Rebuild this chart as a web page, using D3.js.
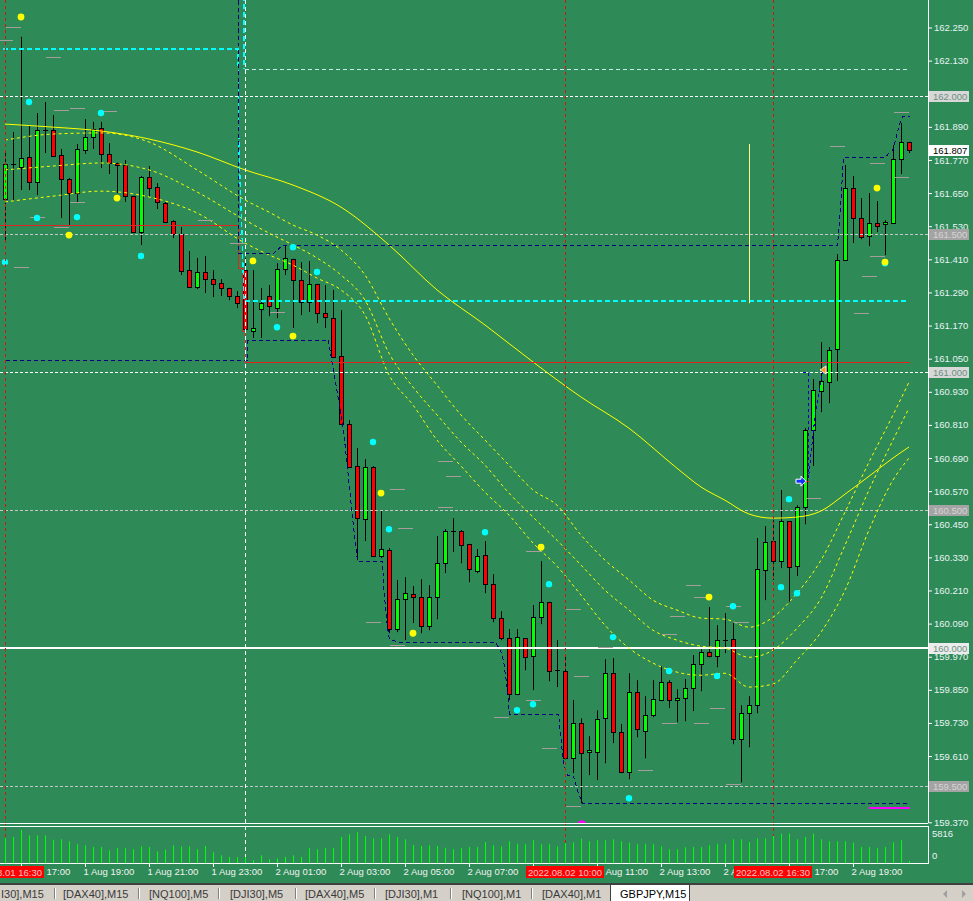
<!DOCTYPE html>
<html><head><meta charset="utf-8">
<script src="https://cdn.jsdelivr.net/npm/d3@7"></script>
<style>body{margin:0;background:#2e8b57;overflow:hidden}svg{display:block}</style>
</head><body><svg id="c" width="973" height="901"></svg>
<script>
// ================= DATA =================
const firstBar = "2022-08-01 16:30";   // M15 bars
const open = [161.628,161.755,161.744,161.781,161.690,161.879,161.879,161.788,161.701,161.650,
161.806,161.853,161.886,161.792,161.759,161.752,161.639,161.509,161.708,161.672,
161.614,161.549,161.502,161.371,161.310,161.364,161.338,161.324,161.306,161.277,
161.371,161.150,161.230,161.277,161.233,161.375,161.411,161.335,161.255,161.320,
161.215,161.197,161.059,160.813,160.661,160.469,160.657,160.335,160.356,160.070,
160.179,160.197,160.186,160.081,160.186,160.309,160.425,160.425,160.378,160.280,
160.338,160.233,160.110,160.037,159.834,160.037,159.972,160.113,160.168,159.921,
159.918,159.602,159.729,159.624,159.624,159.747,159.910,159.697,159.552,159.842,
159.700,159.758,159.813,159.878,159.813,159.820,159.856,159.943,159.987,159.972,
160.031,160.034,159.671,159.765,159.794,160.284,160.389,160.316,160.461,160.298,
160.512,160.791,160.933,160.965,161.085,161.407,161.668,161.560,161.494,161.541,
161.538,161.541,161.773,161.835];
const high = [161.799,161.871,162.216,161.897,161.940,161.980,161.933,161.810,161.705,161.828,
161.918,161.908,161.908,161.831,161.760,161.770,161.640,161.712,161.748,161.686,
161.618,161.552,161.527,161.440,161.415,161.422,161.371,161.338,161.307,161.295,
161.415,161.371,161.306,161.317,161.396,161.462,161.412,161.400,161.404,161.321,
161.317,161.299,161.226,160.827,160.726,160.686,160.661,160.501,160.364,160.248,
160.258,160.226,160.251,160.229,160.407,160.432,160.472,160.429,160.379,160.360,
160.389,160.269,160.135,160.070,160.070,160.038,160.157,160.316,160.169,160.030,
159.976,159.813,159.747,159.682,159.776,159.961,159.965,159.726,159.910,159.885,
159.827,159.885,159.936,159.885,159.852,159.889,159.976,159.997,160.150,160.084,
160.128,160.092,159.794,159.827,160.400,160.443,160.465,160.574,160.462,160.519,
160.798,160.976,161.110,161.092,161.429,161.752,161.712,161.632,161.650,161.621,
161.552,161.824,161.904,161.836];
const low = [161.480,161.621,161.661,161.661,161.643,161.795,161.781,161.560,161.534,161.614,
161.792,161.810,161.741,161.719,161.650,161.618,161.505,161.462,161.636,161.592,
161.541,161.487,161.353,161.306,161.302,161.288,161.273,161.277,161.262,161.233,
161.143,161.125,161.125,161.204,161.197,161.353,161.161,161.208,161.219,161.179,
161.161,161.052,160.809,160.654,160.320,160.389,160.331,160.327,160.055,160.059,
160.030,160.092,160.055,160.066,160.106,160.273,160.349,160.309,160.240,160.273,
160.200,160.095,160.030,159.813,159.831,159.921,159.849,160.088,159.881,159.860,
159.598,159.548,159.439,159.541,159.523,159.584,159.657,159.548,159.526,159.678,
159.602,159.751,159.809,159.784,159.733,159.736,159.773,159.845,159.968,159.932,
159.983,159.653,159.515,159.642,159.765,160.175,160.248,160.291,160.168,160.262,
160.450,160.661,160.856,160.889,160.969,161.406,161.469,161.483,161.458,161.509,
161.425,161.540,161.719,161.795];
const close = [161.755,161.754,161.777,161.690,161.879,161.875,161.784,161.701,161.650,161.810,
161.853,161.882,161.792,161.759,161.752,161.639,161.509,161.708,161.668,161.618,
161.545,161.502,161.367,161.310,161.364,161.338,161.320,161.306,161.277,161.251,
161.157,161.161,161.251,161.241,161.375,161.415,161.335,161.255,161.320,161.215,
161.201,161.056,160.813,160.657,160.472,160.657,160.335,160.360,160.070,160.179,
160.200,160.186,160.081,160.186,160.309,160.425,160.421,160.374,160.287,160.335,
160.233,160.110,160.037,159.834,160.041,159.968,160.113,160.168,159.918,159.918,
159.602,159.729,159.620,159.631,159.744,159.910,159.697,159.552,159.842,159.707,
159.758,159.816,159.878,159.813,159.820,159.856,159.943,159.987,159.972,160.030,
160.029,159.671,159.765,159.794,160.287,160.385,160.316,160.461,160.295,160.512,
160.791,160.936,160.969,161.081,161.407,161.668,161.560,161.491,161.541,161.531,
161.545,161.773,161.835,161.807];
const volume = [4400,4581,5816,4880,4880,4880,4105,4176,3823,3295,
3119,2819,2819,2238,2643,2590,2414,2942,2819,2061,
2343,3119,2942,2942,2414,2995,1885,1357,1057,1004,
1057,476,1357,652,828,1057,1357,1057,2590,2414,
2643,2643,4581,5057,5409,4757,4352,4352,5057,4581,
4176,3172,2995,3119,2995,2696,2414,2590,2819,2819,
3700,3119,2942,3823,3401,3295,4000,3295,3295,2942,
3524,3647,4282,3823,4000,4000,4176,3823,3577,3295,
3401,3295,2942,2414,2414,2766,2819,2819,3119,3401,
3401,4176,4176,3700,4352,4352,4757,5163,5163,4176,
4581,5163,4176,3823,3823,3823,3577,2819,2819,2590,
2819,3647,4000,352];
const volMax = 5816;

// slow moving average (solid yellow), sampled at bar indices
const maIdx = [0,6,12,18,24,30,36,42,48,54,60,66,72,78,84,87,90,93,96,99,102,105,108,111,113];
const maSlow = [161.900,161.889,161.875,161.846,161.799,161.734,161.679,161.599,161.462,161.299,161.172,161.038,160.911,160.798,160.653,160.585,160.537,160.487,160.472,160.476,160.498,160.559,160.624,160.690,160.730];
// envelope bands (dashed yellow), sampled at bar indices
const bandIdx = [0,6,12,18,24,30,33,36,39,42,45,48,51,54,57,60,63,66,69,72,75,78,81,84,87,90,93,96,99,102,105,108,111,113];
const bandUp  = [161.842,161.864,161.868,161.835,161.734,161.625,161.581,161.534,161.498,161.444,161.353,161.197,161.063,160.954,160.846,160.755,160.664,160.574,160.519,160.411,160.320,160.248,160.175,160.139,160.110,160.106,160.077,160.113,160.200,160.320,160.494,160.675,160.846,160.965];
const bandMid = [161.734,161.748,161.759,161.734,161.654,161.552,161.505,161.462,161.415,161.353,161.262,161.070,160.947,160.846,160.748,160.664,160.563,160.476,160.392,160.302,160.211,160.139,160.066,160.030,160.008,160.001,159.968,159.994,160.073,160.182,160.374,160.574,160.755,160.871];
const bandLow = [161.618,161.639,161.657,161.636,161.578,161.469,161.426,161.389,161.342,161.299,161.208,160.991,160.882,160.755,160.661,160.566,160.483,160.382,160.298,160.193,160.084,160.001,159.947,159.914,159.903,159.910,159.860,159.871,159.958,160.059,160.211,160.429,160.610,160.690];

// channel step lines (bar index, price)
const chanHiK = [29.1,29.1,33.5,34.6,104,104.4,104.8,110,110.4,110.9,111.3,111.6,112.1,113];
const chanHiP = [162.45,161.433,161.433,161.462,161.462,161.600,161.781,161.781,161.795,161.806,161.842,161.889,161.929,161.929];
const chanLoK = [0,30.3,30.3,40.4,41,41.5,42.25,42.75,43.4,43.75,44,47.1,47.25,47.5,47.75,48,49.4,61.25,61.9,62.25,62.75,63,69.1,69.4,69.75,70.25,71,71.6,72.1,113];
const chanLoP = [161.045,161.045,161.117,161.117,161.009,160.925,160.791,160.657,160.476,160.382,160.316,160.316,160.237,160.150,160.077,160.034,160.023,160.023,159.994,159.958,159.849,159.762,159.762,159.693,159.584,159.541,159.537,159.476,159.439,159.439];
const trailK = [99.6,100.4,100.4,101.2,102.1];
const trailP = [161.000,161.000,160.620,160.860,161.000];
const cyanLoK = [-0.3,29.1,29.3,29.6,29.9,113];
const cyanLoP = [162.172,162.172,161.800,161.500,161.259,161.259];
const cyanHiK = [29.9,29.9,113];
const cyanHiP = [162.45,162.100,162.100];
const redK = [-1,29.1,29.1,29.6,29.6,30,30,113];
const redP = [161.534,161.534,161.380,161.380,161.150,161.150,161.038,161.038];
const magentaK = [107.9,113];
const magentaP = [159.425,159.425];
const rangeK = 93, rangeP = [161.828,161.251];

// horizontal price levels and current price
const levelPrices = [162.0,161.5,161.0,160.5,160.0,159.5];
const lastPrice = 161.807;
// vertical time lines
const vLineTimes = ["2022-08-01 16:30","2022-08-02 10:00","2022-08-02 16:30"];
const dayStart = "2022-08-02 00:00";

// fractal dots / markers (bar index, price)
const cyanK = [3,12,4,9,0,17,36,39,34,46,48,60,68,66,64,76,83,91,89,78,98,97,99,110];
const cyanP = [161.980,161.940,161.560,161.563,161.400,161.422,161.454,161.364,161.164,160.748,160.432,160.421,160.233,159.798,159.776,160.041,159.918,160.153,159.900,159.457,160.541,160.222,160.200,161.396];
const yellowK = [2,14,8,31,36,47,51,67,88,109,110];
const yellowP = [162.288,161.632,161.498,161.404,161.132,160.563,160.055,160.367,160.186,161.668,161.400];
const markK = [0,1,6,7,9,13,9,4,7,25,29,2,34,55,56,49,55,50,46,49,66,66,71,86,87,91,92,84,83,75,89,72,83,87,68,80,91,71,104,112,109,112,109,108,107,101,62];
const markP = [162.205,162.252,162.143,161.951,161.958,161.947,161.618,161.563,161.527,161.552,161.469,161.382,161.219,160.679,160.624,160.577,160.512,160.436,160.095,160.012,160.353,159.813,160.142,160.229,160.186,160.153,160.095,160.117,160.052,160.005,159.784,159.900,159.729,159.729,159.639,159.559,159.508,159.428,161.821,161.944,161.759,161.708,161.422,161.349,161.215,160.545,159.751];
const buyArrow = [99.5,160.606];
const sellTri = [102.25,161.009];
const lowBlob = [72.1,159.363];

// axes
const priceTicks = [162.25,162.13,161.89,161.77,161.65,161.53,161.41,161.29,161.17,161.05,160.93,160.81,160.69,160.57,160.45,160.33,160.21,160.09,159.97,159.85,159.73,159.61,159.37];
const timeTicks = ["2022-08-01 17:00","2022-08-01 19:00","2022-08-01 21:00","2022-08-01 23:00","2022-08-02 01:00","2022-08-02 03:00","2022-08-02 05:00","2022-08-02 07:00","2022-08-02 09:00","2022-08-02 11:00","2022-08-02 13:00","2022-08-02 15:00","2022-08-02 17:00","2022-08-02 19:00"];
const timeTickLabels = ["17:00","1 Aug 19:00","1 Aug 21:00","1 Aug 23:00","2 Aug 01:00","2 Aug 03:00","2 Aug 05:00","2 Aug 07:00","","Aug 11:00","2 Aug 13:00","2 A","17:00","2 Aug 19:00"];
const tabs = ["I30],M15","[DAX40],M15","[NQ100],M5","[DJI30],M5","[DAX40],M5","[DJI30],M1","[NQ100],M1","[DAX40],M1","GBPJPY,M15"];

// ================= DRAW =================
const W=973,H=901, BG="#2e8b57", FONT="Liberation Sans, Arial, sans-serif";
const svg=d3.select("#c");
svg.append("rect").attr("width",W).attr("height",H).attr("fill",BG);

const parse=d3.timeParse("%Y-%m-%d %H:%M");
const t0=parse(firstBar), barMs=15*60000;
const times=open.map((_,i)=>new Date(+t0+i*barMs));
const x=d3.scaleTime().domain([times[0],times[times.length-1]]).range([5,909]);
const xk=k=>x(new Date(+t0+k*barMs));
const y=d3.scaleLinear().domain([159.37,162.25]).range([822.3,27.5]);
const yv=d3.scaleLinear().domain([0,volMax]).range([863,830]);
const zip=(a,b)=>a.map((v,i)=>[v,b[i]]);
const cr=v=>Math.round(v)+0.5;
const lineK=d3.line().x(d=>cr(xk(d[0]))).y(d=>cr(y(d[1])));
const lineRaw=d3.line().x(d=>Math.round(xk(d[0]))).y(d=>Math.round(y(d[1])));
const smooth=d3.line().x(d=>xk(d[0])).y(d=>y(d[1])).curve(d3.curveMonotoneX);

const defs=svg.append("defs");
defs.append("clipPath").attr("id","cm").append("rect").attr("x",0).attr("y",0).attr("width",928).attr("height",823);
defs.append("clipPath").attr("id","cv").append("rect").attr("x",0).attr("y",827).attr("width",928).attr("height",36);

const g=svg.append("g").attr("clip-path","url(#cm)");

// vertical lines (time)
const vx=vLineTimes.map(s=>cr(x(parse(s))));
svg.selectAll(".vl").data(vx).join("line").attr("x1",d=>d).attr("x2",d=>d).attr("y1",0).attr("y2",863)
  .attr("stroke","#e01010").attr("stroke-dasharray","3,3");
const dx=cr(x(parse(dayStart)));
svg.append("line").attr("x1",dx).attr("x2",dx).attr("y1",0).attr("y2",863).attr("stroke","#ffffff").attr("stroke-dasharray","4,3");

// candles
const cg=g.append("g");
open.forEach((o,i)=>{
  const cx=Math.round(xk(i)), c=close[i];
  cg.append("line").attr("x1",cx+0.5).attr("x2",cx+0.5).attr("y1",y(high[i])).attr("y2",y(low[i])).attr("stroke","#000");
  const y1=y(Math.max(o,c)), y2=y(Math.min(o,c));
  if (y2-y1<1.5){
    cg.append("line").attr("x1",cx-2).attr("x2",cx+3).attr("y1",cr(y1)).attr("y2",cr(y1)).attr("stroke","#000");
  } else {
    cg.append("rect").attr("x",cx-1.5).attr("y",Math.round(y1)+0.5).attr("width",4).attr("height",Math.round(y2-y1))
      .attr("fill",c>o?"#00ff00":"#ff0000").attr("stroke","#000");
  }
});

// horizontal levels
const levStyle=[["#ffffff","3,2",1],["#c8c8c8","3,2",1],["#ffffff","3,2",1],["#c8c8c8","3,2",1],["#ffffff",null,2],["#c8c8c8","3,2",1]];
levelPrices.forEach((p,i)=>{
  const s=levStyle[i];
  const yy=s[2]===2?Math.round(y(p)):cr(y(p));
  g.append("line").attr("x1",0).attr("x2",928).attr("y1",yy).attr("y2",yy)
   .attr("stroke",s[0]).attr("stroke-width",s[2]).attr("stroke-dasharray",s[1]);
});

// yellow MA + bands
g.append("path").attr("d",smooth(zip(maIdx,maSlow))).attr("fill","none").attr("stroke","#ffff00").attr("stroke-width",1);
[bandUp,bandMid,bandLow].forEach(b=>{
  g.append("path").attr("d",smooth(zip(bandIdx,b))).attr("fill","none").attr("stroke","#ffff00").attr("stroke-width",1).attr("stroke-dasharray","3,3");
});

// step lines
function step(k,p,color,dash,w,gen){
  g.append("path").attr("d",(gen||lineK)(zip(k,p))).attr("fill","none").attr("stroke",color)
   .attr("stroke-width",w||1).attr("stroke-dasharray",dash).attr("shape-rendering","crispEdges");
}
step(redK,redP,"#e02424",null);
step(cyanLoK,cyanLoP,"#00ffff","5,3",1.3,lineRaw);
step(cyanHiK.slice(0,2),cyanHiP.slice(0,2),"#00ffff","5,3",1.3,lineRaw);
step(cyanHiK.slice(1),cyanHiP.slice(1),"#c8ecec","4,3");
step(chanHiK,chanHiP,"#000080","4,3");
step(chanLoK,chanLoP,"#000080","4,3");
step(trailK,trailP,"#0000cc","3,3");
step(magentaK,magentaP,"#ff00ff",null,2);
g.append("line").attr("x1",cr(xk(rangeK))).attr("x2",cr(xk(rangeK))).attr("y1",y(rangeP[0])).attr("y2",y(rangeP[1])).attr("stroke","#ffff90");

// grey markers
g.selectAll(".mk").data(zip(markK,markP)).join("line")
  .attr("x1",d=>Math.round(xk(d[0]))-7).attr("x2",d=>Math.round(xk(d[0]))+8)
  .attr("y1",d=>cr(y(d[1]))).attr("y2",d=>cr(y(d[1]))).attr("stroke","#a89c9c");

// dots
g.selectAll(".cd").data(zip(cyanK,cyanP)).join("circle").attr("cx",d=>xk(d[0])).attr("cy",d=>y(d[1])).attr("r",3.2).attr("fill","#00ffff");
g.selectAll(".yd").data(zip(yellowK,yellowP)).join("circle").attr("cx",d=>xk(d[0])).attr("cy",d=>y(d[1])).attr("r",3.4).attr("fill","#ffff00");
g.append("circle").attr("cx",xk(lowBlob[0])).attr("cy",y(lowBlob[1])).attr("r",4).attr("fill","#ff00ff");

// buy arrow & sell triangle
const ba=g.append("g").attr("transform",`translate(${xk(buyArrow[0])},${y(buyArrow[1])})`);
ba.append("line").attr("x1",3).attr("x2",8).attr("y1",0.5).attr("y2",0.5).attr("stroke","#ff0000");
ba.append("path").attr("d","M-5,-2L0,-2L0,-5L5,0L0,5L0,2L-5,2Z").attr("fill","#1030ff").attr("stroke","#fff").attr("stroke-width",1);
g.append("path").attr("transform",`translate(${xk(sellTri[0])},${y(sellTri[1])})`).attr("d","M-3,0L3,-4L3,4Z").attr("fill","#ff9a20").attr("stroke","#fff").attr("stroke-width",0.8);

// ---- panel frames ----
svg.append("line").attr("x1",0).attr("x2",928).attr("y1",823.5).attr("y2",823.5).attr("stroke","#fff");
svg.append("line").attr("x1",0).attr("x2",928).attr("y1",826.5).attr("y2",826.5).attr("stroke","#fff");
svg.append("line").attr("x1",0).attr("x2",929).attr("y1",863.5).attr("y2",863.5).attr("stroke","#fff");
svg.append("line").attr("x1",928.5).attr("x2",928.5).attr("y1",0).attr("y2",823).attr("stroke","#fff");
svg.append("line").attr("x1",928.5).attr("x2",928.5).attr("y1",826).attr("y2",864).attr("stroke","#fff");

// volume
const vg=svg.append("g").attr("clip-path","url(#cv)");
vg.selectAll("line").data(volume).join("line")
  .attr("x1",(d,i)=>Math.round(xk(i))+0.5).attr("x2",(d,i)=>Math.round(xk(i))+0.5)
  .attr("y1",d=>yv(d)).attr("y2",863).attr("stroke","#00ff00");
svg.append("text").attr("x",932).attr("y",837).text(String(volMax)).attr("fill","#e8f4f4").attr("font-family",FONT).attr("font-size","9.5px");
svg.append("text").attr("x",932).attr("y",859).text("0").attr("fill","#e8f4f4").attr("font-family",FONT).attr("font-size","9.5px");

// right price axis
const ax=svg.append("g").attr("transform","translate(928,0)")
  .call(d3.axisRight(y).tickValues(priceTicks).tickFormat(d3.format(".3f")).tickSize(4).tickPadding(2));
ax.select(".domain").remove();
ax.selectAll("line").attr("stroke","#fff");
ax.selectAll("text").attr("fill","#e8f4f4").attr("font-family",FONT).attr("font-size","9.5px");

// level boxes
const boxStyle=[["#d8d8d8","#6c8f7e"],["#a4a4a4","#d4d4d4"],["#d8d8d8","#6c8f7e"],["#a4a4a4","#d4d4d4"],["#ececec","#6c8f7e"],["#a4a4a4","#d4d4d4"]];
levelPrices.forEach((p,i)=>{
  const yy=Math.round(y(p));
  svg.append("rect").attr("x",929).attr("y",yy-5).attr("width",40).attr("height",11).attr("fill",boxStyle[i][0]);
  svg.append("text").attr("x",933).attr("y",yy+3.5).text(d3.format(".3f")(p)).attr("fill",boxStyle[i][1]).attr("font-family",FONT).attr("font-size","9.5px");
});
{
  const yy=Math.round(y(lastPrice));
  svg.append("rect").attr("x",929).attr("y",yy-5).attr("width",40).attr("height",11).attr("fill","#ffffff");
  svg.append("text").attr("x",933).attr("y",yy+3.5).text(d3.format(".3f")(lastPrice)).attr("fill","#000").attr("font-family",FONT).attr("font-size","9.5px");
}

// time axis
const tx=svg.append("g").attr("transform","translate(0,863)")
  .call(d3.axisBottom(x).tickValues(timeTicks.map(parse)).tickFormat((d,i)=>timeTickLabels[i]).tickSize(4).tickPadding(1));
tx.select(".domain").remove();
tx.selectAll("line").attr("stroke","#fff");
tx.selectAll("text").attr("text-anchor","start").attr("dx",-2).attr("fill","#f2f2f2").attr("font-family",FONT).attr("font-size","9.5px");
// labels partly hidden behind red time boxes in the reference: show only the visible part
tx.selectAll("text").filter((d,i)=>i===0).attr("dx",25);
tx.selectAll("text").filter((d,i)=>i===12).attr("dx",25);
tx.selectAll("text").filter((d,i)=>i===9).attr("dx",8);

// red time labels
const fmtV=d3.timeFormat("%Y.%m.%d %H:%M");
vLineTimes.forEach(s=>{
  const t=parse(s), xx=Math.round(x(t));
  svg.append("rect").attr("x",xx-39).attr("y",866).attr("width",78).attr("height",12).attr("fill","#ff0000");
  svg.append("text").attr("x",xx).attr("y",875.5).attr("text-anchor","middle").text(fmtV(t)).attr("fill","#f4c4c4").attr("font-family",FONT).attr("font-size","9.5px");
});

// tab bar
svg.append("rect").attr("x",0).attr("y",883).attr("width",W).attr("height",18).attr("fill","#d4d0c8");
svg.append("rect").attr("x",0).attr("y",883).attr("width",W).attr("height",2).attr("fill","#404040");
const tabStart=[1,63,149,230,305,385,462,542];
const seps=[54,138,218,295,374,450,531];
seps.forEach(s=>{
  svg.append("line").attr("x1",s+0.5).attr("x2",s+0.5).attr("y1",888).attr("y2",899).attr("stroke","#808080");
  svg.append("line").attr("x1",s+1.5).attr("x2",s+1.5).attr("y1",888).attr("y2",899).attr("stroke","#ffffff");
});
tabs.slice(0,8).forEach((t,i)=>{
  svg.append("text").attr("x",tabStart[i]).attr("y",898).text(t).attr("fill","#3a3a3a").attr("font-family",FONT).attr("font-size","11px");
});
svg.append("rect").attr("x",611).attr("y",885).attr("width",78).attr("height",16).attr("fill","#ffffff");
svg.append("line").attr("x1",610.5).attr("x2",610.5).attr("y1",885).attr("y2",901).attr("stroke","#404040");
svg.append("line").attr("x1",689.5).attr("x2",689.5).attr("y1",885).attr("y2",901).attr("stroke","#404040");
svg.append("text").attr("x",620).attr("y",898).text(tabs[8]).attr("fill","#000").attr("font-family",FONT).attr("font-size","11px");
svg.append("path").attr("d","M943,894L947,890L947,898Z").attr("fill","#a0a0a0");
svg.append("path").attr("d","M966,894L962,890L962,898Z").attr("fill","#a0a0a0");
</script></body></html>
